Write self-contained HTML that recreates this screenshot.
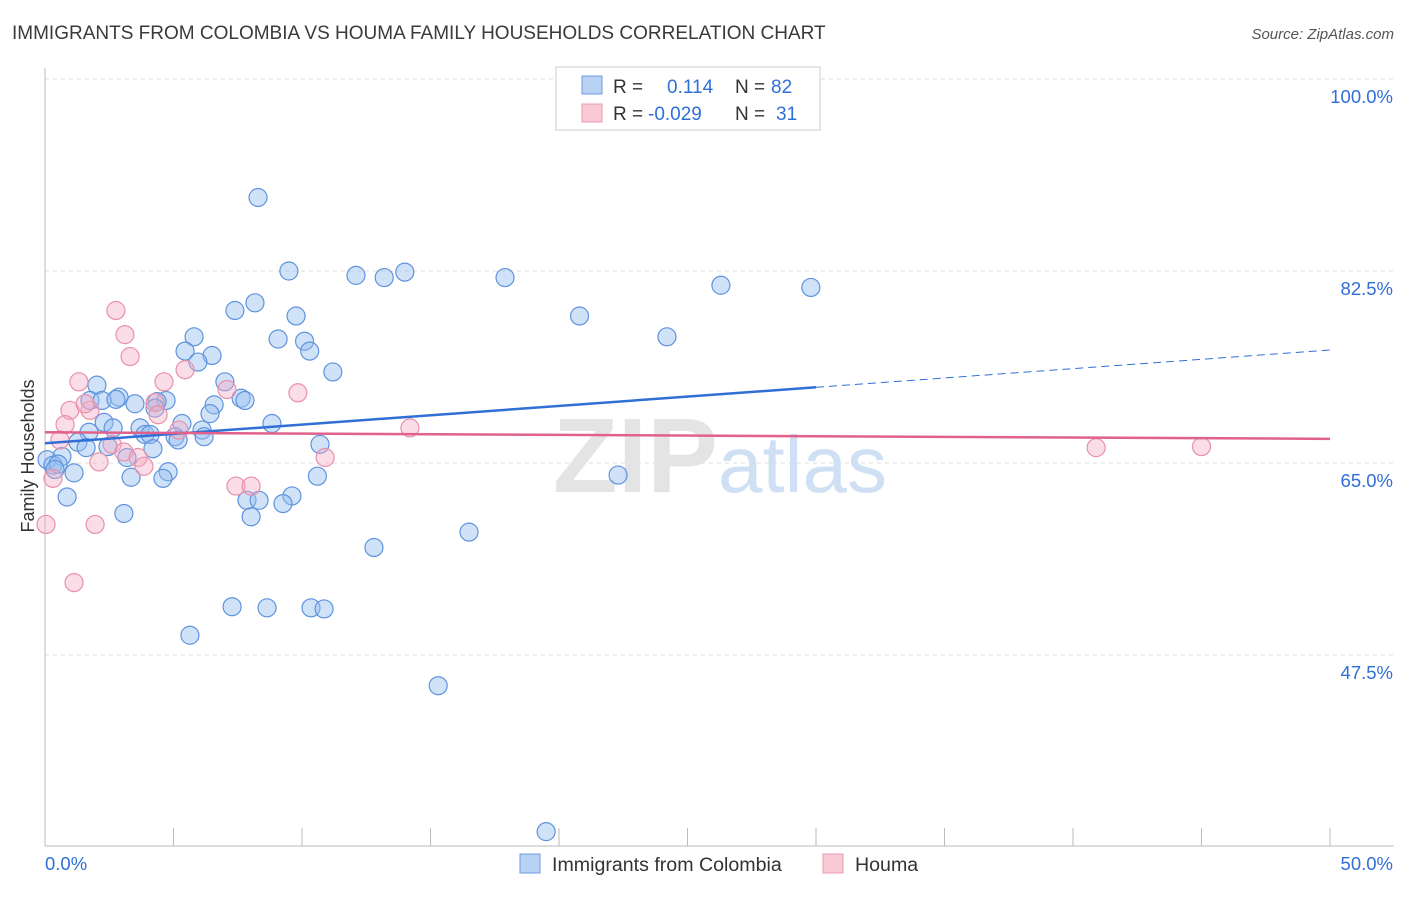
<!DOCTYPE html>
<html><head><meta charset="utf-8"><style>
body{margin:0;background:#fff;font-family:"Liberation Sans",sans-serif;}
svg text{font-family:"Liberation Sans",sans-serif;}
</style></head><body>
<svg id="c" width="1406" height="892" xmlns="http://www.w3.org/2000/svg">
<text x="12" y="39" font-size="19" fill="#3a3a3a">IMMIGRANTS FROM COLOMBIA VS HOUMA FAMILY HOUSEHOLDS CORRELATION CHART</text>
<text x="1394" y="39" font-size="15" fill="#555" text-anchor="end" font-style="italic">Source: ZipAtlas.com</text>
<g id="grid"></g>
<text x="720" y="492" font-size="106" fill="#e4e4e4" text-anchor="middle" font-family="Liberation Serif" font-weight="bold">ZIP<tspan fill="#cfe0f5" font-family="Liberation Sans" font-weight="normal" font-size="80">atlas</tspan></text>
<g id="pts"></g>
<g id="lines"></g>
<text transform="translate(34,456) rotate(-90)" font-size="18" fill="#333" text-anchor="middle">Family Households</text>
<g>
<rect x="556" y="67" width="264" height="63" fill="#fff" stroke="#ccc"/>
<rect x="582" y="76" width="20" height="18" fill="#b8d2f4" stroke="#6f9be0"/>
<rect x="582" y="104" width="20" height="18" fill="#f9c9d6" stroke="#ec9ab2"/>
<text x="613" y="93" font-size="19" fill="#333">R = <tspan x="667" fill="#2f6fd6">0.114</tspan><tspan x="735" fill="#333">N = </tspan><tspan x="771" fill="#2f6fd6">82</tspan></text>
<text x="613" y="120" font-size="19" fill="#333">R = <tspan x="648" fill="#2f6fd6">-0.029</tspan><tspan x="735" fill="#333">N = </tspan><tspan x="776" fill="#2f6fd6">31</tspan></text>
</g>
<g>
<rect x="520" y="854" width="20" height="19" fill="#b8d2f4" stroke="#6f9be0"/>
<text x="552" y="871" font-size="19.6" fill="#333">Immigrants from Colombia</text>
<rect x="823" y="854" width="20" height="19" fill="#f9c9d6" stroke="#ec9ab2"/>
<text x="855" y="871" font-size="19.6" fill="#333">Houma</text>
</g>
</svg>
<script>
const yTicks=[100,82.5,65,47.5];
const yTickLabels=["100.0%","82.5%","65.0%","47.5%"];
const xTickVals=[0,5,10,15,20,25,30,35,40,45,50];
const blueX=[8.29,9.49,12.1,13.2,14.0,17.9,26.3,29.8,20.8,24.2,7.39,8.17,9.77,5.80,9.07,10.1,5.45,10.3,6.50,5.95,11.2,2.02,7.00,2.88,1.75,2.22,2.76,3.50,4.71,4.36,7.63,7.78,6.58,6.42,4.28,8.83,2.30,5.33,3.70,2.65,1.71,6.11,5.06,3.89,6.19,4.09,5.18,10.7,1.28,1.60,2.45,4.20,3.19,0.66,0.08,0.31,0.51,0.39,1.13,3.35,4.79,4.59,10.6,22.3,0.86,9.61,7.86,8.33,9.26,3.07,8.02,16.5,12.8,7.28,8.64,10.35,10.86,5.64,15.3,19.5];
const blueY=[89.2,82.5,82.1,81.9,82.4,81.9,81.2,81.0,78.4,76.5,78.9,79.6,78.4,76.5,76.3,76.1,75.2,75.2,74.8,74.2,73.3,72.1,72.4,71.0,70.7,70.7,70.8,70.4,70.7,70.6,70.9,70.7,70.3,69.5,70.0,68.6,68.7,68.6,68.2,68.2,67.8,68.0,67.4,67.6,67.4,67.6,67.1,66.7,66.9,66.4,66.5,66.3,65.5,65.6,65.3,64.8,64.9,64.4,64.1,63.7,64.2,63.6,63.8,63.9,61.9,62.0,61.6,61.6,61.3,60.4,60.1,58.7,57.3,51.9,51.8,51.8,51.7,49.3,44.7,31.4];
const pinkX=[2.76,3.11,3.31,5.45,1.32,4.63,9.84,0.97,1.75,4.28,1.56,4.40,0.78,5.21,14.2,7.08,0.58,2.61,3.07,3.62,2.10,3.85,10.9,0.31,7.43,8.02,0.04,1.95,1.13,40.9,45.0];
const pinkY=[78.9,76.7,74.7,73.5,72.4,72.4,71.4,69.8,69.8,70.5,70.4,69.4,68.5,68.0,68.2,71.7,67.1,66.7,66.0,65.5,65.1,64.7,65.5,63.6,62.9,62.9,59.4,59.4,54.1,66.4,66.5];
const blueTrend=[66.8,71.9,75.3];
const pinkTrend=[67.8,67.2];
const NS="http://www.w3.org/2000/svg";
const X=v=>45+v/50*1285;
const Y=v=>79+(100-v)/17.5*192;
function mk(tag,attrs,parent){const e=document.createElementNS(NS,tag);for(const k in attrs)e.setAttribute(k,attrs[k]);document.getElementById(parent).appendChild(e);return e;}
yTicks.forEach((t,i)=>{
  const g=mk('line',{x1:45,x2:1394,y1:Y(t),y2:Y(t),stroke:'#dcdcdc','stroke-dasharray':'4,4'},'grid');
  
  
  const l=mk('text',{x:1393,y:Y(t)+24,'font-size':18.5,fill:'#2f6fd6','text-anchor':'end'},'grid');
  l.textContent=yTickLabels[i];
  
  
});
const ax=mk('line',{x1:45,x2:45,y1:68,y2:846,stroke:'#bbb'},'grid');


const bx=mk('line',{x1:45,x2:1394,y1:846,y2:846,stroke:'#bbb'},'grid');


xTickVals.forEach(t=>{
  const k=mk('line',{x1:X(t),x2:X(t),y1:828,y2:846,stroke:'#bbb'},'grid');
  
  
});
const xl0=mk('text',{x:45,y:870,'font-size':18.5,fill:'#2f6fd6'},'grid');xl0.textContent='0.0%';


const xl1=mk('text',{x:1393,y:870,'font-size':18.5,fill:'#2f6fd6','text-anchor':'end'},'grid');xl1.textContent='50.0%';


blueX.forEach((v,i)=>{
  const c=mk('circle',{cx:X(v),cy:Y(blueY[i]),r:9,fill:'rgba(150,190,240,0.45)',stroke:'#5f93dd','stroke-width':1.2},'pts');
  
  
});
pinkX.forEach((v,i)=>{
  const c=mk('circle',{cx:X(v),cy:Y(pinkY[i]),r:9,fill:'rgba(245,170,195,0.4)',stroke:'#e990ab','stroke-width':1.2},'pts');
  
  
});
const b1=mk('line',{x1:X(0),y1:Y(blueTrend[0]),x2:X(30),y2:Y(blueTrend[1]),stroke:'#2f6fd6','stroke-width':2.5},'lines');


const b2=mk('line',{x1:X(30),y1:Y(blueTrend[1]),x2:X(50),y2:Y(blueTrend[2]),stroke:'#2f6fd6','stroke-width':1,'stroke-dasharray':'8,5'},'lines');


const p1=mk('line',{x1:X(0),y1:Y(pinkTrend[0]),x2:X(50),y2:Y(pinkTrend[1]),stroke:'#e0628b','stroke-width':2.5},'lines');


</script>
</body></html>
